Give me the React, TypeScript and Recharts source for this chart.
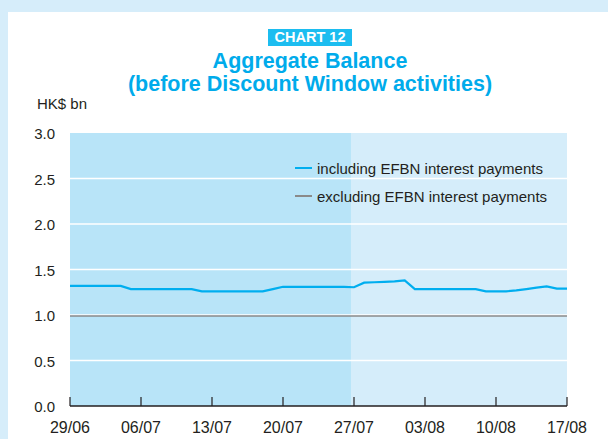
import React from 'react';
import { LineChart, Line, XAxis, YAxis, ReferenceArea, ReferenceLine } from 'recharts';

// Day index since 29/06
const days = [
  0, 1, 2, 3, 4, 5, 6, 7, 8, 9, 10, 11, 12, 13, 14, 15, 16, 17, 18, 19,
  20, 21, 22, 23, 24, 25, 26, 27, 28, 29, 30, 31, 32, 33, 34, 35, 36, 37, 38, 39,
  40, 41, 42, 43, 44, 45, 46, 47, 48, 49,
];

// Aggregate balance including EFBN interest payments (HK$ bn)
const including = [
  1.32, 1.32, 1.32, 1.32, 1.32, 1.32,
  1.285, 1.285, 1.285, 1.285, 1.285, 1.285, 1.285,
  1.26, 1.26, 1.26, 1.26, 1.26, 1.26, 1.26,
  1.285,
  1.31, 1.31, 1.31, 1.31, 1.31, 1.31, 1.31,
  1.305,
  1.355, 1.36, 1.365, 1.37, 1.38,
  1.285, 1.285, 1.285, 1.285, 1.285, 1.285, 1.285,
  1.26, 1.26, 1.26,
  1.27, 1.285, 1.3, 1.315,
  1.29, 1.29,
];

// Aggregate balance excluding EFBN interest payments (HK$ bn)
const excluding = [
  0.99, 0.99, 0.99, 0.99, 0.99, 0.99, 0.99, 0.99, 0.99, 0.99,
  0.99, 0.99, 0.99, 0.99, 0.99, 0.99, 0.99, 0.99, 0.99, 0.99,
  0.99, 0.99, 0.99, 0.99, 0.99, 0.99, 0.99, 0.99, 0.99, 0.99,
  0.99, 0.99, 0.99, 0.99, 0.99, 0.99, 0.99, 0.99, 0.99, 0.99,
  0.99, 0.99, 0.99, 0.99, 0.99, 0.99, 0.99, 0.99, 0.99, 0.99,
];

const xTickValues = [0, 7, 14, 21, 28, 35, 42, 49];
const xTickLabels = ['29/06', '06/07', '13/07', '20/07', '27/07', '03/08', '10/08', '17/08'];
const yTicks = [0, 0.5, 1.0, 1.5, 2.0, 2.5, 3.0];
const gridValues = [0.5, 1.0, 1.5, 2.0, 2.5];
const shadeStart = 0;
const shadeEnd = 27.7;

const seriesNames = ['including EFBN interest payments', 'excluding EFBN interest payments'];
const seriesColors = ['#00aeef', '#8a8a8a'];

const data = days.map((d, i) => ({ day: d, including: including[i], excluding: excluding[i] }));

const FONT = '"Liberation Sans", Arial, Helvetica, sans-serif';
const TEXT = '#231f20';

const XTick = (props: any) => {
  const { x, y, payload } = props;
  const idx = xTickValues.indexOf(payload.value);
  return (
    <g>
      <line x1={x} x2={x} y1={y - 9} y2={y} stroke={TEXT} strokeWidth={1.2} />
      <text x={x} y={y + 27} textAnchor="middle" fontSize={16} fill={TEXT} fontFamily={FONT}>
        {idx >= 0 ? xTickLabels[idx] : ''}
      </text>
    </g>
  );
};

const YTick = (props: any) => {
  const { x, y, payload } = props;
  return (
    <text x={x} y={y} dy={6} textAnchor="end" fontSize={15} fill={TEXT} fontFamily={FONT}>
      {Number(payload.value).toFixed(1)}
    </text>
  );
};

export default function App() {
  return (
    <div
      style={{
        position: 'absolute',
        left: 0,
        top: 0,
        width: 608,
        height: 439,
        background: '#d6edfa',
        overflow: 'hidden',
        fontFamily: FONT,
      }}
    >
      <div style={{ position: 'absolute', left: 8, top: 12, right: 0, bottom: 0, background: '#ffffff' }} />
      <div
        style={{
          position: 'absolute',
          left: 268,
          top: 29,
          width: 84,
          height: 17,
          background: '#1cbdf0',
          color: '#ffffff',
          fontWeight: 'bold',
          fontSize: 14.5,
          lineHeight: '17px',
          textAlign: 'center',
        }}
      >
        CHART 12
      </div>
      <div
        style={{
          position: 'absolute',
          left: 0,
          width: 620,
          top: 50,
          textAlign: 'center',
          color: '#00abeb',
          fontWeight: 'bold',
          fontSize: 21.5,
          lineHeight: '23px',
        }}
      >
        Aggregate Balance
        <br />
        (before Discount Window activities)
      </div>
      <div style={{ position: 'absolute', left: 37, top: 95, fontSize: 15, color: TEXT }}>HK$ bn</div>

      <div style={{ position: 'absolute', left: 0, top: 0 }}>
        <LineChart width={608} height={439} data={data} margin={{ top: 133, right: 41, bottom: 3, left: 30 }}>
          <XAxis
            dataKey="day"
            type="number"
            domain={[0, 49]}
            ticks={xTickValues}
            interval={0}
            height={30}
            tickSize={0}
            tickMargin={0}
            axisLine={{ stroke: TEXT, strokeWidth: 1.3 }}
            tickLine={false}
            tick={<XTick />}
          />
          <YAxis
            type="number"
            domain={[0, 3]}
            ticks={yTicks}
            interval={0}
            width={40}
            axisLine={false}
            tickLine={false}
            tickSize={0}
            tickMargin={15}
            tick={<YTick />}
          />
          <ReferenceArea x1={0} x2={49} y1={0} y2={3} fill="#d5edfa" fillOpacity={1} stroke="none" />
          <ReferenceArea x1={shadeStart} x2={shadeEnd} y1={0} y2={3} fill="#b8e4f8" fillOpacity={1} stroke="none" />
          {gridValues.map((g) => (
            <ReferenceLine key={g} y={g} stroke="#ffffff" strokeWidth={1.5} />
          ))}
          <Line
            dataKey="excluding"
            type="linear"
            stroke={seriesColors[1]}
            strokeWidth={1.5}
            dot={false}
            isAnimationActive={false}
          />
          <Line
            dataKey="including"
            type="linear"
            stroke={seriesColors[0]}
            strokeWidth={2.2}
            dot={false}
            isAnimationActive={false}
          />
        </LineChart>
      </div>

      <div style={{ position: 'absolute', left: 295, top: 158 }}>
        {seriesNames.map((n, i) => (
          <div key={n} style={{ display: 'flex', alignItems: 'center', height: 20, marginBottom: 8 }}>
            <div
              style={{
                width: 17,
                height: i === 0 ? 2 : 1.5,
                background: seriesColors[i],
                marginRight: 5,
              }}
            />
            <span style={{ fontSize: 15, color: TEXT, whiteSpace: 'nowrap' }}>{n}</span>
          </div>
        ))}
      </div>
    </div>
  );
}
